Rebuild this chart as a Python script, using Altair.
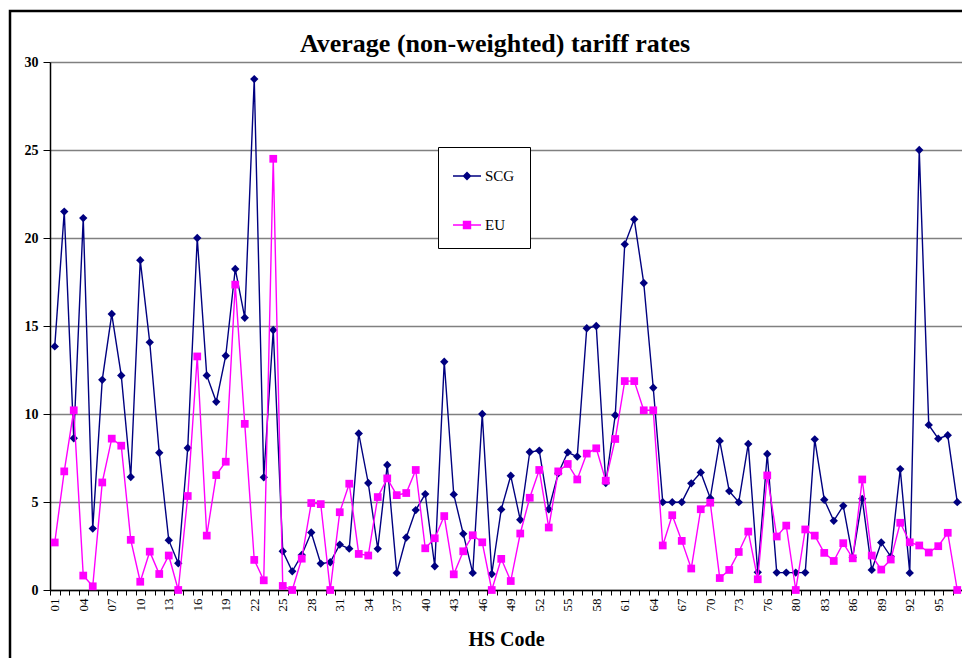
import altair as alt
import pandas as pd

codes = ["01", "02", "03", "04", "05", "06", "07", "08", "09", "10",
         "11", "12", "13", "14", "15", "16", "17", "18", "19", "20",
         "21", "22", "23", "24", "25", "26", "27", "28", "29", "30",
         "31", "32", "33", "34", "35", "36", "37", "38", "39", "40",
         "41", "42", "43", "44", "45", "46", "47", "48", "49", "50",
         "51", "52", "53", "54", "55", "56", "57", "58", "59", "60",
         "61", "62", "63", "64", "65", "66", "67", "68", "69", "70",
         "71", "72", "73", "74", "75", "76", "78", "79", "80",
         "81", "82", "83", "84", "85", "86", "87", "88", "89", "90",
         "91", "92", "93", "94", "95", "96", "97"]

scg = [13.84, 21.5, 8.62, 21.13, 3.49, 11.94, 15.68, 12.19, 6.42, 18.74,
       14.07, 7.80, 2.83, 1.52, 8.07, 20.0, 12.19, 10.69, 13.31, 18.24,
       15.47, 29.03, 6.40, 14.77, 2.20, 1.06, 1.99, 3.27, 1.50, 1.58,
       2.58, 2.35, 8.89, 6.08, 2.34, 7.10, 0.97, 2.98, 4.54, 5.45,
       1.35, 12.97, 5.43, 3.19, 0.97, 10.0, 0.91, 4.58, 6.49, 3.99,
       7.84, 7.92, 4.59, 6.63, 7.82, 7.58, 14.87, 15.0, 6.08, 9.93,
       19.64, 21.06, 17.44, 11.49, 4.99, 4.99, 4.99, 6.06, 6.68, 5.22,
       8.47, 5.62, 4.99, 8.30, 1.01, 7.73, 0.99, 0.99, 0.99,
       0.99, 8.56, 5.13, 3.93, 4.78, 1.85, 5.18, 1.14, 2.70, 1.90,
       6.87, 0.97, 25.0, 9.38, 8.60, 8.79, 4.99]

eu = [2.70, 6.74, 10.21, 0.82, 0.21, 6.11, 8.60, 8.20, 2.85, 0.47,
      2.18, 0.91, 1.96, 0.0, 5.34, 13.27, 3.09, 6.53, 7.29, 17.35,
      9.44, 1.71, 0.55, 24.5, 0.23, 0.0, 1.78, 4.94, 4.88, 0.0,
      4.42, 6.04, 2.05, 1.96, 5.28, 6.34, 5.39, 5.51, 6.82, 2.37,
      2.94, 4.20, 0.89, 2.20, 3.11, 2.71, 0.0, 1.77, 0.51, 3.21,
      5.24, 6.82, 3.55, 6.74, 7.16, 6.28, 7.75, 8.05, 6.21, 8.58,
      11.87, 11.87, 10.21, 10.21, 2.53, 4.25, 2.79, 1.22, 4.59, 4.96,
      0.68, 1.14, 2.16, 3.32, 0.61, 6.51, 3.04, 3.66, 0.0,
      3.44, 3.09, 2.11, 1.65, 2.66, 1.80, 6.28, 1.96, 1.16, 1.73,
      3.82, 2.71, 2.53, 2.13, 2.49, 3.25, 0.0]

series = ["SCG", "EU"]
colors = ["#000080", "#FF00FF"]
label_codes = ["01", "04", "07", "10", "13", "16", "19", "22", "25", "28",
               "31", "34", "37", "40", "43", "46", "49", "52", "55", "58",
               "61", "64", "67", "70", "73", "76", "80", "83", "86", "89",
               "92", "95"]
y_ticks = [0, 5, 10, 15, 20, 25, 30]

df = pd.DataFrame({
    "code": codes * 2,
    "series": ["SCG"] * len(codes) + ["EU"] * len(codes),
    "value": scg + eu,
})

W, H = 912, 528
FONT = "Liberation Serif"

label_list = "[" + ",".join("'%s'" % c for c in label_codes) + "]"

x_enc = alt.X(
    "code:N",
    sort=codes,
    scale=alt.Scale(type="band", domain=codes, paddingInner=0, paddingOuter=0),
    axis=alt.Axis(
        title="HS Code",
        tickBand="extent",
        labelAngle=270,
        labelExpr="indexof(%s, datum.value) >= 0 ? datum.label : ''" % label_list,
        labelFont=FONT,
        labelFontSize=13,
        labelColor="black",
        labelPadding=3,
        tickSize=5,
        tickColor="black",
        domainColor="black",
        domainWidth=1.5,
        titleFont=FONT,
        titleFontSize=20,
        titleFontWeight="bold",
        titleColor="black",
        titlePadding=18,
        grid=False,
        labelOverlap=False,
    ),
)
y_enc = alt.Y(
    "value:Q",
    scale=alt.Scale(domain=[0, 30], nice=False),
    axis=alt.Axis(
        title=None,
        values=y_ticks,
        grid=True,
        gridColor="#808080",
        gridWidth=1.5,
        domainColor="black",
        domainWidth=1.5,
        tickColor="black",
        tickSize=7,
        labelFont=FONT,
        labelFontSize=14,
        labelFontWeight="bold",
        labelColor="black",
        labelPadding=5,
    ),
)

base = alt.Chart(df)

layers = []
marks = {"SCG": ("diamond", 70), "EU": ("square", 60)}
for s, c in zip(series, colors):
    sub = base.transform_filter(alt.datum.series == s)
    layers.append(sub.mark_line(color=c, strokeWidth=1.4).encode(x=x_enc, y=y_enc))
    shp, sz = marks[s]
    layers.append(sub.mark_point(shape=shp, size=sz, filled=True, color=c, opacity=1).encode(x=x_enc, y=y_enc))

path_scg = "M-1,-0.05L1,-0.05L1,0.05L-1,0.05Z M0,-0.32L0.32,0L0,0.32L-0.32,0Z"
path_eu = "M-1,-0.05L1,-0.05L1,0.05L-1,0.05Z M-0.3,-0.3L0.3,-0.3L0.3,0.3L-0.3,0.3Z"

leg = dict(
    title=None,
    orient="none",
    legendX=388,
    legendY=85,
    strokeColor="black",
    fillColor="white",
    padding=15,
    rowPadding=27,
    labelFont=FONT,
    labelFontSize=15,
    labelColor="black",
    labelOffset=4,
    symbolSize=784,
    symbolOpacity=1,
    symbolStrokeWidth=0,
)

legend_layer = base.transform_filter("false").mark_point(filled=True, size=784, opacity=1).encode(
    x=x_enc,
    y=y_enc,
    color=alt.Color("series:N", scale=alt.Scale(domain=series, range=colors), legend=alt.Legend(**leg)),
    shape=alt.Shape("series:N", scale=alt.Scale(domain=series, range=[path_scg, path_eu]), legend=alt.Legend(**leg)),
)
layers.append(legend_layer)

frame = alt.Chart(pd.DataFrame({"a": [0]})).mark_rect(
    fillOpacity=0, stroke="black", strokeWidth=2.5
).encode(
    x=alt.value(-40), x2=alt.value(2000), y=alt.value(-51), y2=alt.value(2000)
)
layers.append(frame)

chart = alt.layer(*layers).properties(
    width=W,
    height=H,
    title=alt.Title(
        "Average (non-weighted) tariff rates",
        font=FONT,
        fontSize=26,
        fontWeight="bold",
        color="black",
        anchor="middle",
        frame="group",
        offset=-47,
        dx=-11,
    ),
    autosize=alt.AutoSizeParams(type="none"),
    padding={"left": 42, "top": 54, "right": 0, "bottom": 68},
).configure_view(stroke="#555555", strokeWidth=1.5).configure(background="white")

chart.save("out.html", embed_options={"renderer": "svg", "actions": False})
